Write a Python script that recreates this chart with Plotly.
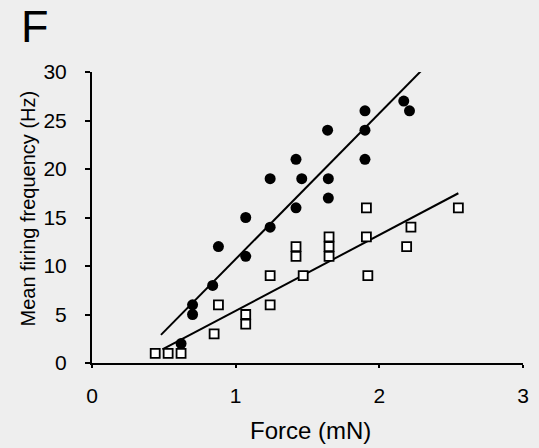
import plotly.graph_objects as go

# Filled circles
circ_x = [0.62, 0.70, 0.70, 0.84, 0.88, 1.07, 1.07, 1.24, 1.24, 1.42, 1.46, 1.42,
          1.64, 1.645, 1.645, 1.90, 1.90, 1.90, 2.17, 2.21]
circ_y = [2, 5, 6, 8, 12, 11, 15, 14, 19, 21, 19, 16,
          24, 19, 17, 26, 24, 21, 27, 26]

# Open squares
sq_x = [0.44, 0.53, 0.62, 0.85, 0.88, 1.07, 1.07, 1.24, 1.24, 1.42, 1.42, 1.47,
        1.65, 1.65, 1.65, 1.91, 1.92, 2.19, 1.91, 2.22, 2.55]
sq_y = [1, 1, 1, 3, 6, 5, 4, 9, 6, 12, 11, 9,
        13, 12, 11, 13, 9, 12, 16, 14, 16]

# Regression line endpoints
fit_circ_x = [0.48, 2.29]
fit_circ_y = [2.9, 30.1]
fit_sq_x = [0.49, 2.55]
fit_sq_y = [1.4, 17.5]

x_ticks = [0, 1, 2, 3]
y_ticks = [0, 5, 10, 15, 20, 25, 30]

FONT = "Liberation Sans, Arial, sans-serif"

fig = go.Figure()
fig.add_trace(go.Scatter(x=fit_circ_x, y=fit_circ_y, mode="lines",
                         line=dict(color="black", width=2), showlegend=False))
fig.add_trace(go.Scatter(x=fit_sq_x, y=fit_sq_y, mode="lines",
                         line=dict(color="black", width=2), showlegend=False))
fig.add_trace(go.Scatter(x=sq_x, y=sq_y, mode="markers",
                         marker=dict(symbol="square", size=9, color="white",
                                     line=dict(color="black", width=1.8)),
                         showlegend=False, cliponaxis=False))
fig.add_trace(go.Scatter(x=circ_x, y=circ_y, mode="markers",
                         marker=dict(symbol="circle", size=11, color="black",
                                     line=dict(width=0)),
                         showlegend=False, cliponaxis=False))

fig.update_layout(
    width=539, height=448,
    margin=dict(l=92, r=10, t=72, b=85),
    paper_bgcolor="#eeeeee", plot_bgcolor="#eeeeee",
    font=dict(family=FONT, size=21, color="black"),
    xaxis=dict(range=[0, 3], tickvals=x_ticks, showgrid=False, zeroline=False,
               showline=True, linecolor="black", linewidth=2,
               ticks="outside", ticklen=3, tickwidth=1.5, tickcolor="black",
               ticklabelstandoff=10, tickfont=dict(size=21)),
    yaxis=dict(range=[0, 30], tickvals=y_ticks, showgrid=False, zeroline=False,
               showline=True, linecolor="black", linewidth=2,
               ticks="outside", ticklen=5, tickwidth=1.5, tickcolor="black",
               ticklabelstandoff=14, tickfont=dict(size=21)),
    annotations=[
        dict(text="Force (mN)", xref="paper", yref="paper", x=0.5, y=0,
             xanchor="center", yanchor="middle", xshift=3, yshift=-67,
             showarrow=False, font=dict(size=24)),
        dict(text="Mean firing frequency (Hz)", xref="paper", yref="paper",
             x=0, y=0.5, xanchor="center", yanchor="middle", xshift=-65,
             yshift=9, textangle=-90, showarrow=False, font=dict(size=20)),
        dict(text="F", xref="paper", yref="paper", x=0, y=1,
             xanchor="left", yanchor="middle", xshift=-73, yshift=46,
             showarrow=False, font=dict(size=45)),
    ],
)

fig.write_html("out.html")
